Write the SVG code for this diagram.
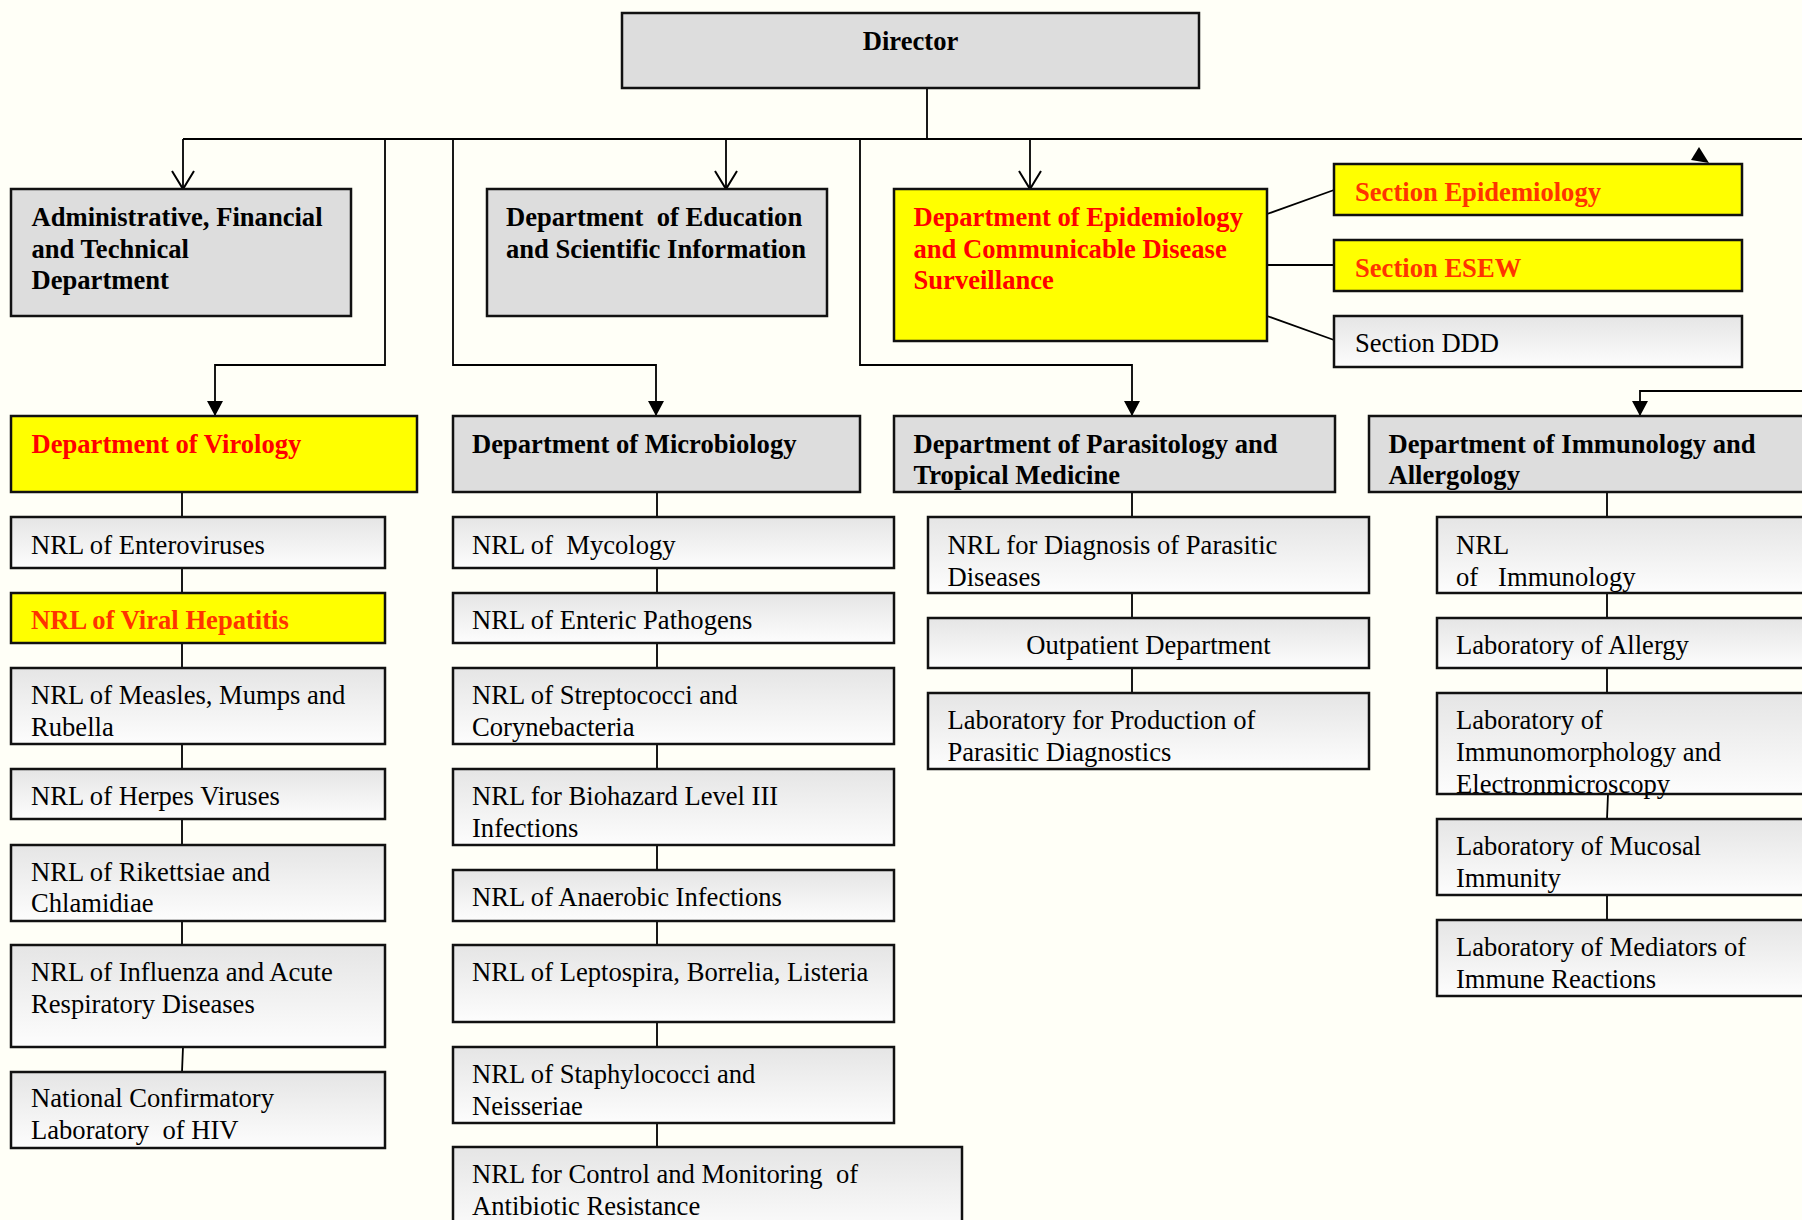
<svg xmlns="http://www.w3.org/2000/svg" width="1802" height="1220" viewBox="0 0 1802 1220">
<defs>
<linearGradient id="lab" x1="0" y1="0" x2="0" y2="1">
<stop offset="0" stop-color="#E5E5E5"/>
<stop offset="1" stop-color="#FDFDFD"/>
</linearGradient>
<marker id="open" viewBox="-20 -12 22 24" refX="0" refY="0" markerWidth="22" markerHeight="24" orient="auto" markerUnits="userSpaceOnUse">
<path d="M-18,-11 L0,0 L-18,11" fill="none" stroke="#000" stroke-width="2"/>
</marker>
<marker id="fill" viewBox="-16 -9 17 18" refX="0" refY="0" markerWidth="17" markerHeight="18" orient="auto" markerUnits="userSpaceOnUse">
<polygon points="-15,-8 0,0 -15,8" fill="#000"/>
</marker>
</defs>
<style>
text{font-family:"Liberation Serif","Times New Roman",serif;font-size:26.6px;fill:#000;transform:translate(0px,1px)}
.b{font-weight:bold}
.red{fill:#FF0000}
.ora{fill:#FF3300}
.grey{fill:#DDDDDD;stroke:#111;stroke-width:2.5}
.yel{fill:#FFFF00;stroke:#111;stroke-width:2.5}
.lab{fill:url(#lab);stroke:#111;stroke-width:2.5}
.c{fill:none;stroke:#000;stroke-width:1.8}
</style>
<rect x="0" y="0" width="1802" height="1220" fill="#FFFFF7"/>
<g id="connectors">
<path class="c" d="M927 88 V139"/>
<path class="c" d="M183 139 H1802"/>
<path class="c" d="M183 139 V189" marker-end="url(#open)"/>
<path class="c" d="M726 139 V189" marker-end="url(#open)"/>
<path class="c" d="M1030 139 V189" marker-end="url(#open)"/>
<path class="c" d="M385 139 V365 H215 V416" marker-end="url(#fill)"/>
<path class="c" d="M453 139 V365 H656 V416" marker-end="url(#fill)"/>
<path class="c" d="M860 139 V365 H1132 V416" marker-end="url(#fill)"/>
<path class="c" d="M1802 391 H1640 V416" marker-end="url(#fill)"/>
<polygon points="1699,147 1691,160 1709,163" fill="#000"/>
<path class="c" d="M1267 214 L1334 190"/>
<path class="c" d="M1267 265 H1334"/>
<path class="c" d="M1267 316 L1334 340"/>
<path class="c" d="M182 492 V517 M182 568 V593 M182 643 V668 M182 744 V769 M182 819 V845 M182 921 V945 M183 1047 L182 1072"/>
<path class="c" d="M657 492 V517 M657 568 V593 M657 643 V668 M657 744 V769 M657 845 V870 M657 921 V945 M657 1022 V1047 M657 1123 V1147"/>
<path class="c" d="M1132 492 V517 M1132 593 V618 M1132 668 V693"/>
<path class="c" d="M1607 492 V517 M1607 593 V618 M1607 668 V693 M1608 794 L1607 819 M1607 895 V920"/>
</g>
<g id="director">
<rect class="grey" x="622" y="13" width="577" height="75"/>
<text class="b" x="910.5" y="49" text-anchor="middle">Director</text>
</g>
<g id="admin">
<rect class="grey" x="11" y="189" width="340" height="127"/>
<text class="b" x="31.5" y="225">Administrative, Financial</text>
<text class="b" x="31.5" y="256.5">and Technical</text>
<text class="b" x="31.5" y="288">Department</text>
</g>
<g id="education">
<rect class="grey" x="487" y="189" width="340" height="127"/>
<text class="b" x="506" y="225" xml:space="preserve">Department  of Education</text>
<text class="b" x="506" y="256.5">and Scientific Information</text>
</g>
<g id="epidemiology">
<rect class="yel" x="894" y="189" width="373" height="152"/>
<text class="b red" x="913.5" y="225">Department of Epidemiology</text>
<text class="b red" x="913.5" y="256.5">and Communicable Disease</text>
<text class="b red" x="913.5" y="288">Surveillance</text>
</g>
<g id="section-epidemiology">
<rect class="yel" x="1334" y="164" width="408" height="51"/>
<text class="b ora" x="1355" y="200">Section Epidemiology</text>
</g>
<g id="section-esew">
<rect class="yel" x="1334" y="240" width="408" height="51"/>
<text class="b ora" x="1355" y="275.5">Section ESEW</text>
</g>
<g id="section-ddd">
<rect class="lab" x="1334" y="316" width="408" height="51"/>
<text x="1355" y="351">Section DDD</text>
</g>
<g id="virology">
<rect class="yel" x="11" y="416" width="406" height="76"/>
<text class="b red" x="31.5" y="452">Department of Virology</text>
</g>
<g id="microbiology">
<rect class="grey" x="453" y="416" width="407" height="76"/>
<text class="b" x="472" y="452">Department of Microbiology</text>
</g>
<g id="parasitology">
<rect class="grey" x="894" y="416" width="441" height="76"/>
<text class="b" x="913.5" y="451.5">Department of Parasitology and</text>
<text class="b" x="913.5" y="483">Tropical Medicine</text>
</g>
<g id="immunology">
<rect class="grey" x="1369" y="416" width="500" height="76"/>
<text class="b" x="1388.5" y="451.5">Department of Immunology and</text>
<text class="b" x="1388.5" y="483">Allergology</text>
</g>
<g id="nrl-enteroviruses">
<rect class="lab" x="11" y="517" width="374" height="51"/>
<text x="31" y="553">NRL of Enteroviruses</text>
</g>
<g id="nrl-viral-hepatitis">
<rect class="yel" x="11" y="593" width="374" height="50"/>
<text class="b ora" x="31" y="628">NRL of Viral Hepatitis</text>
</g>
<g id="nrl-measles">
<rect class="lab" x="11" y="668" width="374" height="76"/>
<text x="31" y="703">NRL of Measles, Mumps and</text>
<text x="31" y="735">Rubella</text>
</g>
<g id="nrl-herpes">
<rect class="lab" x="11" y="769" width="374" height="50"/>
<text x="31" y="804">NRL of Herpes Viruses</text>
</g>
<g id="nrl-rikettsiae">
<rect class="lab" x="11" y="845" width="374" height="76"/>
<text x="31" y="879.5">NRL of Rikettsiae and</text>
<text x="31" y="911">Chlamidiae</text>
</g>
<g id="nrl-influenza">
<rect class="lab" x="11" y="945" width="374" height="102"/>
<text x="31" y="980">NRL of Influenza and Acute</text>
<text x="31" y="1012">Respiratory Diseases</text>
</g>
<g id="ncl-hiv">
<rect class="lab" x="11" y="1072" width="374" height="76"/>
<text x="31" y="1106">National Confirmatory</text>
<text x="31" y="1138" xml:space="preserve">Laboratory  of HIV</text>
</g>
<g id="nrl-mycology">
<rect class="lab" x="453" y="517" width="441" height="51"/>
<text x="472" y="553" xml:space="preserve">NRL of  Mycology</text>
</g>
<g id="nrl-enteric">
<rect class="lab" x="453" y="593" width="441" height="50"/>
<text x="472" y="628">NRL of Enteric Pathogens</text>
</g>
<g id="nrl-streptococci">
<rect class="lab" x="453" y="668" width="441" height="76"/>
<text x="472" y="703">NRL of Streptococci and</text>
<text x="472" y="735">Corynebacteria</text>
</g>
<g id="nrl-biohazard">
<rect class="lab" x="453" y="769" width="441" height="76"/>
<text x="472" y="804">NRL for Biohazard Level III</text>
<text x="472" y="836">Infections</text>
</g>
<g id="nrl-anaerobic">
<rect class="lab" x="453" y="870" width="441" height="51"/>
<text x="472" y="904.5">NRL of Anaerobic Infections</text>
</g>
<g id="nrl-leptospira">
<rect class="lab" x="453" y="945" width="441" height="77"/>
<text x="472" y="980">NRL of Leptospira, Borrelia, Listeria</text>
</g>
<g id="nrl-staphylococci">
<rect class="lab" x="453" y="1047" width="441" height="76"/>
<text x="472" y="1082">NRL of Staphylococci and</text>
<text x="472" y="1113.5">Neisseriae</text>
</g>
<g id="nrl-antibiotic">
<rect class="lab" x="453" y="1147" width="509" height="90"/>
<text x="472" y="1182" xml:space="preserve">NRL for Control and Monitoring  of</text>
<text x="472" y="1213.5">Antibiotic Resistance</text>
</g>
<g id="nrl-parasitic">
<rect class="lab" x="928" y="517" width="441" height="76"/>
<text x="947.5" y="553">NRL for Diagnosis of Parasitic</text>
<text x="947.5" y="584.5">Diseases</text>
</g>
<g id="outpatient">
<rect class="lab" x="928" y="618" width="441" height="50"/>
<text x="1148.5" y="653" text-anchor="middle">Outpatient Department</text>
</g>
<g id="lab-production">
<rect class="lab" x="928" y="693" width="441" height="76"/>
<text x="947.5" y="728">Laboratory for Production of</text>
<text x="947.5" y="760">Parasitic Diagnostics</text>
</g>
<g id="nrl-immunology">
<rect class="lab" x="1437" y="517" width="450" height="76"/>
<text x="1456" y="553">NRL</text>
<text x="1456" y="584.5" xml:space="preserve">of   Immunology</text>
</g>
<g id="lab-allergy">
<rect class="lab" x="1437" y="618" width="450" height="50"/>
<text x="1456" y="653">Laboratory of Allergy</text>
</g>
<g id="lab-immunomorphology">
<rect class="lab" x="1437" y="693" width="450" height="101"/>
<text x="1456" y="728">Laboratory of</text>
<text x="1456" y="760">Immunomorphology and</text>
<text x="1456" y="792">Electronmicroscopy</text>
</g>
<g id="lab-mucosal">
<rect class="lab" x="1437" y="819" width="450" height="76"/>
<text x="1456" y="854">Laboratory of Mucosal</text>
<text x="1456" y="886">Immunity</text>
</g>
<g id="lab-mediators">
<rect class="lab" x="1437" y="920" width="450" height="76"/>
<text x="1456" y="955">Laboratory of Mediators of</text>
<text x="1456" y="987">Immune Reactions</text>
</g>
</svg>
